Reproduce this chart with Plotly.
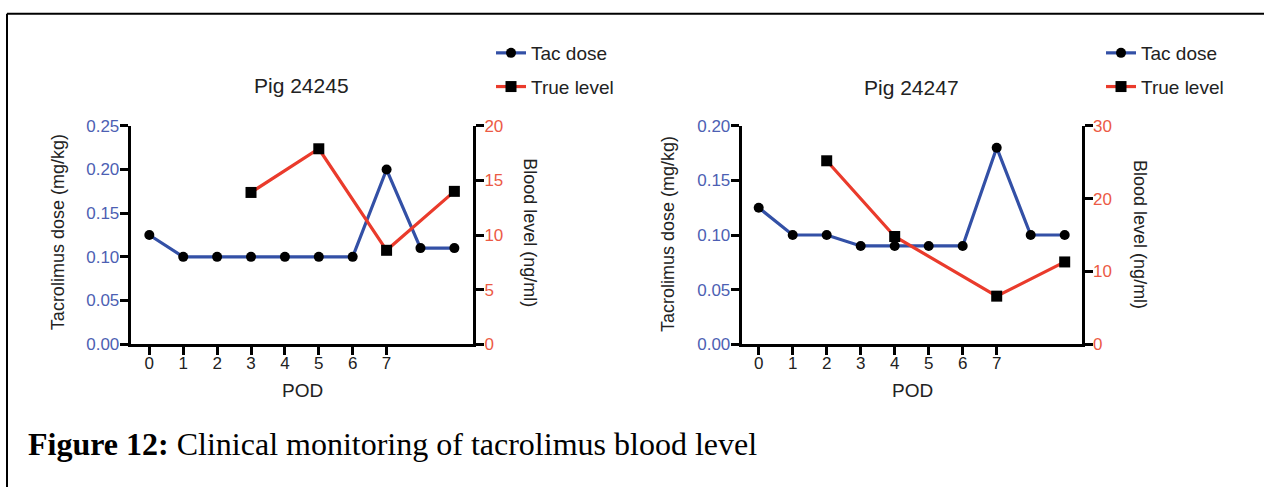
import plotly.graph_objects as go

W, H = 1264, 497

# ---- data ----
pod = [0, 1, 2, 3, 4, 5, 6, 7, 8, 9]
tick_pod = [0, 1, 2, 3, 4, 5, 6, 7]

pig1_title = "Pig 24245"
pig1_dose = [0.125, 0.10, 0.10, 0.10, 0.10, 0.10, 0.10, 0.20, 0.11, 0.11]
pig1_level_x = [3, 5, 7, 9]
pig1_level = [13.9, 17.9, 8.6, 14.0]

pig2_title = "Pig 24247"
pig2_dose = [0.125, 0.10, 0.10, 0.09, 0.09, 0.09, 0.09, 0.18, 0.10, 0.10]
pig2_level_x = [2, 4, 7, 9]
pig2_level = [25.2, 14.8, 6.6, 11.3]

dose_ticks1 = [0, 0.05, 0.10, 0.15, 0.20, 0.25]
level_ticks1 = [0, 5, 10, 15, 20]
dose_ticks2 = [0, 0.05, 0.10, 0.15, 0.20]
level_ticks2 = [0, 10, 20, 30]

caption = "<b>Figure 12:</b> Clinical monitoring of tacrolimus blood level"

# ---- style ----
BLUE = "#3350a6"
BLUE_T = "#4d5fb3"
RED = "#ea3b2c"
RED_T = "#ec5a45"
FONT = "Liberation Sans, Arial, sans-serif"

def px(x):
    return x / W

def py(y):
    return 1 - y / H

fig = go.Figure()

fig.add_trace(go.Scatter(x=pod, y=pig1_dose, name="Tac dose", mode="lines+markers",
                         line=dict(color=BLUE, width=3.2), marker=dict(color="black", size=10, symbol="circle"),
                         xaxis="x", yaxis="y", legend="legend", legendgroup="a1", cliponaxis=False))
fig.add_trace(go.Scatter(x=pig1_level_x, y=pig1_level, name="True level", mode="lines+markers",
                         line=dict(color=RED, width=3.2), marker=dict(color="black", size=11, symbol="square"),
                         xaxis="x", yaxis="y2", legend="legend", legendgroup="b1", cliponaxis=False))
fig.add_trace(go.Scatter(x=pod, y=pig2_dose, name="Tac dose", mode="lines+markers",
                         line=dict(color=BLUE, width=3.2), marker=dict(color="black", size=10, symbol="circle"),
                         xaxis="x2", yaxis="y3", legend="legend2", legendgroup="a2", cliponaxis=False))
fig.add_trace(go.Scatter(x=pig2_level_x, y=pig2_level, name="True level", mode="lines+markers",
                         line=dict(color=RED, width=3.2), marker=dict(color="black", size=11, symbol="square"),
                         xaxis="x2", yaxis="y4", legend="legend2", legendgroup="b2", cliponaxis=False))

ydom = [py(348.5), py(121.5)]

axis_common = dict(showline=True, linecolor="black", linewidth=3, ticks="outside",
                   ticklen=8, tickwidth=3, tickcolor="black", showgrid=False, zeroline=False,
                   fixedrange=True)

fig.update_layout(
    width=W, height=H,
    margin=dict(l=0, r=0, t=0, b=0),
    paper_bgcolor="white", plot_bgcolor="white",
    font=dict(family=FONT, color="#222222", size=17),
    xaxis=dict(domain=[px(130.7), px(473)], range=[-0.55, 9.55], anchor="y",
               tickvals=tick_pod, tickfont=dict(size=17, color="#222222"),
               ticklabelstandoff=-7, **axis_common),
    yaxis=dict(domain=ydom, range=[0, 0.25], anchor="x", tickvals=dose_ticks1, tickformat=".2f",
               tickfont=dict(size=17, color=BLUE_T), ticklabelstandoff=-3, **axis_common),
    yaxis2=dict(range=[0, 20], anchor="x", overlaying="y", side="right", tickvals=level_ticks1,
                tickfont=dict(size=17, color=RED_T), ticklabelstandoff=-3, **axis_common),
    xaxis2=dict(domain=[px(741.7), px(1081.7)], range=[-0.5, 9.5], anchor="y3",
                tickvals=tick_pod, tickfont=dict(size=17, color="#222222"),
                ticklabelstandoff=-7, **axis_common),
    yaxis3=dict(domain=ydom, range=[0, 0.20], anchor="x2", tickvals=dose_ticks2, tickformat=".2f",
                tickfont=dict(size=17, color=BLUE_T), ticklabelstandoff=-3, **axis_common),
    yaxis4=dict(range=[0, 30], anchor="x2", overlaying="y3", side="right", tickvals=level_ticks2,
                tickfont=dict(size=17, color=RED_T), ticklabelstandoff=-3, **axis_common),
    legend=dict(x=px(491), y=py(26), xanchor="left", yanchor="top", bgcolor="rgba(0,0,0,0)",
                font=dict(size=19, color="#222222", family=FONT), tracegroupgap=6, itemwidth=30),
    legend2=dict(x=px(1101), y=py(26), xanchor="left", yanchor="top", bgcolor="rgba(0,0,0,0)",
                 font=dict(size=19, color="#222222", family=FONT), tracegroupgap=6, itemwidth=30),
    showlegend=True,
)

ann = []
def text(x, y, s, size=17, angle=0, xanchor="center", color="#222222", family=FONT):
    ann.append(dict(x=px(x), y=py(y), xref="paper", yref="paper", text=s, showarrow=False,
                    xanchor=xanchor, yanchor="middle", textangle=angle,
                    font=dict(size=size, color=color, family=family)))

text(301, 80, pig1_title, size=21)
text(911, 82, pig2_title, size=21)
text(302, 397, "POD", size=19)
text(912, 397, "POD", size=19)
text(58, 232, "Tacrolimus dose (mg/kg)", size=18, angle=-90)
text(668, 234, "Tacrolimus dose (mg/kg)", size=18, angle=-90)
text(530, 232, "Blood level (ng/ml)", size=18, angle=90)
text(1140, 234, "Blood level (ng/ml)", size=18, angle=90)
text(26, 452, caption, size=32, xanchor="left", color="black",
     family="Liberation Serif, Times New Roman, serif")
fig.update_layout(annotations=ann)

# frame lines (top and left edges of the figure box)
fig.add_shape(type="line", xref="paper", yref="paper", x0=px(7), x1=1, y0=py(5), y1=py(5),
              line=dict(color="black", width=2))
fig.add_shape(type="line", xref="paper", yref="paper", x0=px(7), x1=px(7), y0=py(5), y1=0,
              line=dict(color="black", width=2))

post = ("document.documentElement.style.cssText='margin:0;padding:0;overflow:hidden;';"
        "document.body.style.cssText='margin:0;padding:0;overflow:hidden;';"
        "var d=document.getElementById('{plot_id}');"
        "d.style.position='fixed';d.style.top='0px';d.style.left='0px';")
fig.write_html("out.html", config={"displayModeBar": False}, post_script=post)
